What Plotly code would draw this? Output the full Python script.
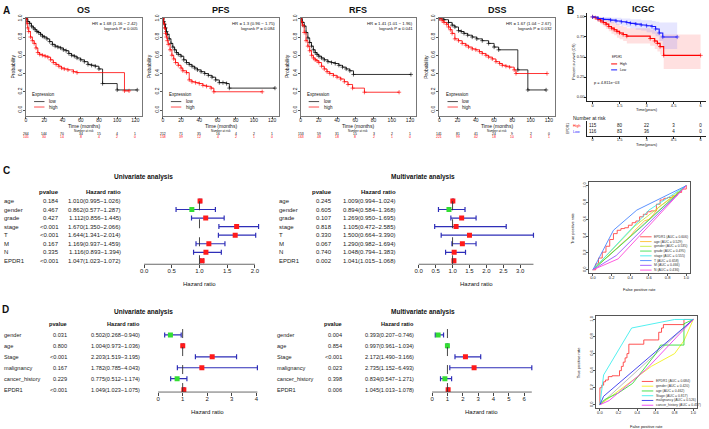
import plotly.graph_objects as go

W, H = 709, 429
FONT = "Arial, Liberation Sans, Helvetica, sans-serif"
RED, GREEN, BAR = "#ff1a1a", "#33dd33", "#2e2eb8"

# ---------------- A: Kaplan-Meier curves (months, survival) ----------------
km_names = ["OS", "PFS", "RFS", "DSS"]
km_hr = ["HR = 1.68 (1.16 − 2.42)", "HR = 1.3 (0.96 − 1.75)",
         "HR = 1.41 (1.01 − 1.96)", "HR = 1.67 (1.04 − 2.67)"]
km_logrank = ["logrank P = 0.005", "logrank P = 0.084",
              "logrank P = 0.041", "logrank P = 0.032"]
km_ticks = [0, 20, 40, 60, 80, 100, 120]

os_low_t = [0, 2, 4, 6, 8, 10, 12, 14, 16, 18, 20, 23, 26, 29, 32, 35, 38, 41, 44, 47,
            50, 53, 56, 60, 64, 68, 72, 76, 80, 84, 100, 122]
os_low_s = [1.0, 0.97, 0.95, 0.92, 0.9, 0.88, 0.86, 0.85, 0.83, 0.81, 0.8, 0.78, 0.75, 0.72,
            0.7, 0.69, 0.68, 0.66, 0.65, 0.62, 0.6, 0.59, 0.57, 0.55, 0.53, 0.5, 0.49, 0.48,
            0.45, 0.29, 0.22, 0.22]
os_high_t = [0, 1, 2, 3, 5, 7, 9, 11, 13, 15, 18, 21, 24, 27, 30, 33, 36, 39, 42, 46, 52,
             56, 108, 113]
os_high_s = [1.0, 0.95, 0.9, 0.86, 0.8, 0.76, 0.73, 0.68, 0.63, 0.61, 0.6, 0.59, 0.58, 0.55,
             0.52, 0.5, 0.48, 0.46, 0.45, 0.44, 0.42, 0.41, 0.21, 0.21]

pfs_low_t = [0, 1, 2, 3, 4, 5, 7, 9, 11, 13, 15, 17, 20, 23, 26, 29, 32, 35, 38, 42, 46, 50,
             54, 58, 62, 66, 70, 73, 123]
pfs_low_s = [1.0, 0.97, 0.94, 0.9, 0.86, 0.83, 0.78, 0.73, 0.69, 0.66, 0.63, 0.61, 0.59, 0.55,
             0.52, 0.5, 0.48, 0.46, 0.44, 0.42, 0.4, 0.38, 0.36, 0.33, 0.3, 0.3, 0.29, 0.24, 0.24]
pfs_high_t = [0, 1, 2, 3, 4, 5, 6, 8, 10, 12, 14, 17, 20, 22, 26, 29, 32, 36, 40, 44, 48, 53,
              56, 109]
pfs_high_s = [1.0, 0.95, 0.9, 0.84, 0.8, 0.76, 0.72, 0.66, 0.6, 0.56, 0.52, 0.49, 0.46, 0.43,
              0.41, 0.33, 0.31, 0.3, 0.29, 0.27, 0.26, 0.24, 0.2, 0.2]

rfs_low_t = [0, 2, 4, 6, 8, 10, 12, 14, 16, 18, 20, 23, 26, 30, 34, 38, 42, 46, 50, 54, 58, 121]
rfs_low_s = [1.0, 0.96, 0.92, 0.85, 0.79, 0.74, 0.7, 0.66, 0.63, 0.61, 0.59, 0.57, 0.55, 0.53,
             0.52, 0.51, 0.49, 0.47, 0.45, 0.43, 0.39, 0.39]
rfs_high_t = [0, 1, 2, 4, 6, 8, 10, 12, 14, 16, 18, 20, 23, 26, 29, 32, 36, 40, 44, 48, 52, 57,
              70, 108]
rfs_high_s = [1.0, 0.97, 0.93, 0.85, 0.76, 0.7, 0.65, 0.6, 0.57, 0.55, 0.54, 0.52, 0.48, 0.45,
              0.42, 0.4, 0.38, 0.36, 0.34, 0.31, 0.28, 0.24, 0.195, 0.195]

dss_low_t = [0, 5, 10, 14, 17, 21, 24, 27, 31, 36, 41, 47, 54, 60, 65, 86, 97, 117]
dss_low_s = [1.0, 0.99, 0.96, 0.93, 0.91, 0.87, 0.86, 0.84, 0.82, 0.8, 0.78, 0.76, 0.73, 0.69,
             0.66, 0.44, 0.22, 0.22]
dss_high_t = [0, 3, 5, 8, 10, 12, 14, 17, 21, 25, 29, 32, 36, 40, 44, 47, 51, 54, 58, 62, 66,
              69, 73, 77, 82, 84, 118]
dss_high_s = [1.0, 0.98, 0.96, 0.94, 0.91, 0.88, 0.84, 0.78, 0.76, 0.73, 0.71, 0.69, 0.67, 0.66,
              0.64, 0.62, 0.6, 0.58, 0.56, 0.53, 0.51, 0.49, 0.48, 0.47, 0.44, 0.4, 0.4]

os_risk_low = [264, 144, 70, 34, 15, 4, 1]
os_risk_high = [105, 30, 14, 8, 4, 2, 0]
pfs_risk_low = [212, 71, 35, 16, 4, 2, 1]
pfs_risk_high = [158, 39, 12, 4, 2, 1, 0]
rfs_risk_low = [153, 59, 31, 15, 3, 2, 1]
rfs_risk_high = [163, 48, 18, 8, 2, 1, 0]
dss_risk_low = [141, 81, 41, 24, 9, 2, 0]
dss_risk_high = [221, 99, 42, 18, 10, 4, 1]

km_low = [(os_low_t, os_low_s), (pfs_low_t, pfs_low_s), (rfs_low_t, rfs_low_s), (dss_low_t, dss_low_s)]
km_high = [(os_high_t, os_high_s), (pfs_high_t, pfs_high_s), (rfs_high_t, rfs_high_s),
           (dss_high_t, dss_high_s)]
km_risk = [(os_risk_low, os_risk_high), (pfs_risk_low, pfs_risk_high),
           (rfs_risk_low, rfs_risk_high), (dss_risk_low, dss_risk_high)]

# ---------------- B: ICGC (years) ----------------
icgc_high_t = [0, 0.15, 0.3, 0.45, 0.6, 0.75, 0.9, 1.05, 1.2, 1.35, 1.5, 1.7, 1.9, 3.2, 3.45, 3.6,
               3.75, 3.95, 6.0]
icgc_high_s = [1.0, 0.99, 0.97, 0.95, 0.93, 0.91, 0.88, 0.86, 0.84, 0.82, 0.8, 0.78, 0.76, 0.73,
               0.7, 0.67, 0.63, 0.52, 0.52]
icgc_high_up = [1.0, 1.0, 1.0, 0.99, 0.98, 0.97, 0.95, 0.94, 0.92, 0.91, 0.89, 0.88, 0.86, 0.84,
                0.82, 0.8, 0.77, 0.78, 0.78]
icgc_high_lo = [1.0, 0.97, 0.94, 0.91, 0.88, 0.85, 0.82, 0.79, 0.77, 0.74, 0.72, 0.7, 0.67, 0.64,
                0.6, 0.57, 0.53, 0.35, 0.35]
icgc_low_t = [0, 0.3, 0.6, 1.0, 1.3, 1.6, 1.9, 2.1, 2.4, 2.7, 3.0, 3.3, 3.5, 3.7, 3.9, 4.7]
icgc_low_s = [1.0, 0.98, 0.97, 0.96, 0.95, 0.94, 0.93, 0.92, 0.91, 0.9, 0.89, 0.88, 0.85, 0.8,
              0.75, 0.75]
icgc_low_up = [1.0, 1.0, 1.0, 0.99, 0.99, 0.98, 0.98, 0.97, 0.97, 0.96, 0.96, 0.95, 0.94, 0.93,
               0.93, 0.93]
icgc_low_lo = [1.0, 0.96, 0.94, 0.92, 0.9, 0.89, 0.87, 0.86, 0.84, 0.83, 0.81, 0.79, 0.76, 0.7,
               0.6, 0.6]
icgc_ticks = [0, 1.5, 3, 4.5, 6]
icgc_tick_text = ["0", "1.5", "3", "4.5", "6"]
icgc_risk_high = [115, 80, 22, 3, 0]
icgc_risk_low = [116, 83, 36, 4, 0]

# ---------------- C / D: Cox regression ----------------
c_vars = ["age", "gender", "grade", "stage", "T", "M", "N", "EPDR1"]
c_uni_p = ["0.184", "0.467", "0.427", "<0.001", "<0.001", "0.167", "0.335", "<0.001"]
c_uni_hr = [1.010, 0.862, 1.112, 1.670, 1.644, 1.169, 1.116, 1.047]
c_uni_lo = [0.995, 0.577, 0.856, 1.350, 1.341, 0.937, 0.893, 1.023]
c_uni_hi = [1.026, 1.287, 1.445, 2.066, 2.014, 1.459, 1.394, 1.072]
c_multi_p = ["0.245", "0.605", "0.107", "0.818", "0.330", "0.067", "0.740", "0.002"]
c_multi_hr = [1.009, 0.894, 1.269, 1.105, 1.500, 1.290, 1.048, 1.041]
c_multi_lo = [0.994, 0.584, 0.950, 0.472, 0.664, 0.982, 0.794, 1.015]
c_multi_hi = [1.024, 1.368, 1.695, 2.585, 3.390, 1.694, 1.383, 1.068]

d_vars = ["gender", "age", "Stage", "malignancy", "cancer_history", "EPDR1"]
d_uni_p = ["0.031", "0.800", "<0.001", "0.167", "0.229", "<0.001"]
d_uni_hr = [0.502, 1.004, 2.203, 1.782, 0.775, 1.049]
d_uni_lo = [0.268, 0.973, 1.519, 0.785, 0.512, 1.023]
d_uni_hi = [0.940, 1.036, 3.195, 4.043, 1.174, 1.075]
d_multi_p = ["0.004", "0.854", "<0.001", "0.023", "0.398", "0.006"]
d_multi_hr = [0.393, 0.997, 2.172, 2.735, 0.834, 1.045]
d_multi_lo = [0.207, 0.961, 1.490, 1.152, 0.547, 1.013]
d_multi_hi = [0.746, 1.034, 3.166, 6.493, 1.271, 1.078]

# ---------------- ROC curves (fpr, tpr) ----------------
c_roc_names = ["EPDR1 (AUC = 0.606)", "age (AUC = 0.529)", "gender (AUC = 0.535)",
               "grade (AUC = 0.495)", "stage (AUC = 0.555)", "T (AUC = 0.658)",
               "M (AUC = 0.466)", "N (AUC = 0.436)"]
c_roc_colors = ["#ff4848", "#ffc030", "#c4ec40", "#40e050", "#40eaea", "#4a86ff", "#9a52ff", "#ff48d8"]
c_roc_fpr = [
    [0, 0.03, 0.06, 0.1, 0.14, 0.18, 0.22, 0.26, 0.3, 0.34, 0.38, 0.42, 0.46, 0.5, 0.54, 0.58,
     0.62, 0.66, 0.68, 0.72, 0.76, 0.8, 0.85, 0.9, 0.95, 1.0],
    [0, 0.1, 0.2, 0.3, 0.35, 0.4, 0.45, 0.5, 0.55, 0.6, 0.65, 0.7, 0.8, 0.9, 1.0],
    [0, 0.45, 1.0],
    [0, 0.55, 1.0],
    [0, 0.6, 1.0],
    [0, 0.22, 0.47, 1.0],
    [0, 0.25, 1.0],
    [0, 0.27, 1.0],
]
c_roc_tpr = [
    [0, 0.07, 0.14, 0.21, 0.28, 0.36, 0.43, 0.47, 0.49, 0.5, 0.53, 0.56, 0.58, 0.63, 0.66, 0.69,
     0.7, 0.7, 0.78, 0.83, 0.85, 0.86, 0.88, 0.92, 0.96, 1.0],
    [0, 0.1, 0.2, 0.3, 0.36, 0.4, 0.47, 0.53, 0.58, 0.6, 0.66, 0.74, 0.82, 0.9, 1.0],
    [0, 0.52, 1.0],
    [0, 0.54, 1.0],
    [0, 0.71, 1.0],
    [0, 0.47, 0.71, 1.0],
    [0, 0.17, 1.0],
    [0, 0.13, 1.0],
]
d_roc_names = ["EPDR1 (AUC = 0.684)", "gender (AUC = 0.420)", "age (AUC = 0.462)",
               "Stage (AUC = 0.817)", "malignancy (AUC = 0.526)", "cancer_history (AUC = 0.457)"]
d_roc_colors = ["#ff4040", "#f2f020", "#38dd38", "#40eeee", "#3434ee", "#ee40ee"]
d_roc_fpr = [
    [0, 0, 0.02, 0.04, 0.06, 0.09, 0.13, 0.2, 0.21, 0.23, 0.25, 0.27, 0.29, 0.31, 0.45, 0.47,
     0.61, 0.63, 0.66, 0.68, 0.9, 0.9, 1.0],
    [0, 0.3, 0.55, 0.8, 0.9, 1.0],
    [0, 0.05, 0.2, 0.35, 0.6, 0.65, 0.9, 0.9, 1.0],
    [0, 0.04, 0.34, 0.8, 1.0],
    [0, 0.04, 1.0],
    [0, 0.1, 0.5, 1.0],
]
d_roc_tpr = [
    [0, 0.2, 0.23, 0.27, 0.29, 0.33, 0.34, 0.34, 0.4, 0.45, 0.5, 0.55, 0.6, 0.71, 0.71, 0.76,
     0.76, 0.85, 0.9, 0.94, 0.94, 1.0, 1.0],
    [0, 0.25, 0.45, 0.6, 0.75, 1.0],
    [0, 0.06, 0.14, 0.25, 0.6, 0.7, 0.7, 0.95, 1.0],
    [0, 0.35, 0.9, 1.0, 1.0],
    [0, 0.1, 1.0],
    [0, 0.05, 0.42, 1.0],
]
roc_diag = [0, 1]
roc_ticks = [0, 0.2, 0.4, 0.6, 0.8, 1.0]

# ============================================================================
fig = go.Figure()
ann, shapes = [], []


def nm(n, k):
    return k if n == 1 else f"{k}{n}"


def set_axes(n, xpx, ypx, xkw, ykw):
    fig.update_layout(**{
        ("xaxis" if n == 1 else f"xaxis{n}"): dict(domain=[xpx[0] / W, xpx[1] / W],
                                                   anchor=nm(n, "y"), showgrid=False,
                                                   zeroline=False, **xkw),
        ("yaxis" if n == 1 else f"yaxis{n}"): dict(domain=[1 - ypx[1] / H, 1 - ypx[0] / H],
                                                   anchor=nm(n, "x"), showgrid=False,
                                                   zeroline=False, **ykw),
    })


def txt(x, y, s, size=5, xref="paper", yref="paper", xa="center", ya="middle",
        color="#111", bold=False, angle=0):
    if xref == "paper":
        x = x / W
    if yref == "paper":
        y = 1 - y / H
    ann.append(dict(x=x, y=y, xref=xref, yref=yref, text=f"<b>{s}</b>" if bold else s,
                    showarrow=False, xanchor=xa, yanchor=ya, textangle=angle, borderpad=0,
                    font=dict(size=size, color=color, family=FONT)))


def seg(x0, y0, x1, y1, xref="paper", yref="paper", color="#000", width=0.8, dash="solid"):
    if xref == "paper":
        x0, x1 = x0 / W, x1 / W
    if yref == "paper":
        y0, y1 = 1 - y0 / H, 1 - y1 / H
    shapes.append(dict(type="line", x0=x0, y0=y0, x1=x1, y1=y1, xref=xref, yref=yref,
                       line=dict(color=color, width=width, dash=dash)))


def tick_style(size, color="#555", standoff=-2):
    return dict(ticks="outside", ticklen=2, tickwidth=0.6, tickcolor=color,
                ticklabelstandoff=standoff,
                tickfont=dict(size=size, color="#222", family=FONT))


# ---------------- A ----------------
km_left = [25, 162, 300, 439]
for i, name in enumerate(km_names):
    n = i + 1
    L = km_left[i]
    R = L + 116
    box = dict(showline=True, mirror=True, linecolor="#777", linewidth=0.8)
    set_axes(n, (L, R), (14, 113),
             dict(range=[0, 127], tickvals=km_ticks, **box, **tick_style(5, standoff=-3)),
             dict(range=[-0.065, 1.01], tickvals=[0, 0.2, 0.4, 0.6, 0.8, 1.0],
                  ticktext=["0.0", "0.2", "0.4", "0.6", "0.8", "1.0"], tickangle=-90,
                  **box, **tick_style(5, standoff=-1)))
    for (t, s), col in ((km_low[i], "#000000"), (km_high[i], "#ff0000")):
        fig.add_trace(go.Scatter(x=t, y=s, mode="lines+markers", xaxis=nm(n, "x"),
                                 yaxis=nm(n, "y"), showlegend=False, hoverinfo="skip",
                                 line=dict(color=col, width=0.8, shape="hv"),
                                 marker=dict(symbol="cross-thin", size=3,
                                             line=dict(color=col, width=0.6))))
    dref = nm(n, "x") + " domain"
    txt(0.5, 6, name, size=9, xref=dref, bold=True)
    txt(0.98, 20, km_hr[i], size=4.3, xref=dref, xa="right")
    txt(0.98, 25, km_logrank[i], size=4.3, xref=dref, xa="right")
    txt(0.045, 91, "Expression", size=4.5, xref=dref, xa="left")
    for j, (lab, col) in enumerate((("low", "#000"), ("high", "#ff0000"))):
        y = 98.5 + j * 5.5
        seg(0.07, y, 0.16, y, xref=dref, color=col, width=0.7)
        txt(0.19, y, lab, size=4.5, xref=dref, xa="left")
    txt(L - 13, 63, "Probability", size=5, angle=-90)
    txt((L + R) / 2, 123.5, "Time (months)", size=5)
    txt(0.5, 128, "Number at risk", size=3, xref=dref)
    for j, (lab, col) in enumerate((("low", "#000"), ("high", "#ff0000"))):
        y = 131 + j * 3.4
        txt(-3, y, lab, size=3.4, xref=nm(n, "x"), xa="right", color=col)
        for tv, cnt in zip(km_ticks, km_risk[i][j]):
            txt(tv, y, str(cnt), size=3.4, xref=nm(n, "x"), color=col)

# ---------------- B ----------------
bx = (587, 706)
set_axes(5, bx, (9, 98),
         dict(range=[-0.3, 6.3], tickvals=icgc_ticks, ticktext=icgc_tick_text,
              showline=True, linecolor="#222", linewidth=0.6, **tick_style(4, "#222", -2)),
         dict(range=[-0.05, 1.05], tickvals=[0, 0.25, 0.5, 0.75, 1.0],
              ticktext=["0.00", "0.25", "0.50", "0.75", "1.00"],
              showline=True, linecolor="#222", linewidth=0.6, **tick_style(4, "#222", -1)))
for t, s, up, lo, col, fill in (
        (icgc_high_t, icgc_high_s, icgc_high_up, icgc_high_lo, "#ff0000", "rgba(255,60,60,0.16)"),
        (icgc_low_t, icgc_low_s, icgc_low_up, icgc_low_lo, "#1a1aff", "rgba(80,80,255,0.14)")):
    fig.add_trace(go.Scatter(x=t, y=up, mode="lines", line=dict(width=0, shape="hv"),
                             xaxis="x5", yaxis="y5", showlegend=False, hoverinfo="skip"))
    fig.add_trace(go.Scatter(x=t, y=lo, mode="lines", line=dict(width=0, shape="hv"),
                             fill="tonexty", fillcolor=fill,
                             xaxis="x5", yaxis="y5", showlegend=False, hoverinfo="skip"))
for t, s, col in ((icgc_high_t, icgc_high_s, "#ff0000"), (icgc_low_t, icgc_low_s, "#1a1aff")):
    fig.add_trace(go.Scatter(x=t, y=s, mode="lines+markers", xaxis="x5", yaxis="y5",
                             line=dict(color=col, width=1.1, shape="hv"),
                             marker=dict(symbol="cross-thin", size=3, line=dict(color=col, width=0.6)),
                             showlegend=False, hoverinfo="skip"))
txt(643, 5, "ICGC", size=9, bold=True)
txt(574, 58, "Percent survival (OS)", size=3.8, angle=-90)
txt(647, 106.5, "Time(years)", size=4)
txt(593, 79, "p = 4.811e−03", size=4, xa="left")
txt(611, 54, "EPDR1", size=3, xa="left")
for j, (lab, col) in enumerate((("High", "#ff0000"), ("Low", "#1a1aff"))):
    y = 60.5 + j * 6
    seg(611, y, 617, y, color=col, width=1)
    txt(619, y, lab, size=3.3, xa="left")

set_axes(6, bx, (118, 133),
         dict(range=[-0.3, 6.3], tickvals=icgc_ticks, ticktext=icgc_tick_text,
              showline=True, linecolor="#222", linewidth=0.6, **tick_style(4, "#222", -2)),
         dict(range=[0.333, 2.833], showticklabels=False, showline=True, linecolor="#222",
              linewidth=0.6))
for yv, vals in ((2, icgc_risk_high), (1, icgc_risk_low)):
    fig.add_trace(go.Scatter(x=icgc_ticks, y=[yv] * len(vals), mode="text",
                             text=[str(v) for v in vals], xaxis="x6", yaxis="y6",
                             textfont=dict(size=4.5, color="#111", family=FONT),
                             showlegend=False, hoverinfo="skip"))
txt(572, 115, "Number at risk", size=5, xa="left")
txt(581, 2, "High", size=3.6, xa="right", yref="y6", color="#ff0000")
txt(581, 1, "Low", size=3.6, xa="right", yref="y6", color="#1a1aff")
txt(568, 126, "EPDR1", size=3.3, angle=-90)
txt(647, 141.5, "Time(years)", size=4)


# ---------------- C / D forest plots ----------------
def forest(n, vars_, pv, hr, lo, hi, xpx, ypx, xr, yr, tvals, ttext, axis_max, dash_top,
           cols, fsize, title_xy, hr_lab_y):
    k = len(vars_)
    yv = [k - i for i in range(k)]
    set_axes(n, xpx, ypx,
             dict(range=xr, tickvals=tvals, ticktext=ttext, showline=False,
                  ticks="outside", ticklen=3, tickwidth=0.7, tickcolor="#444",
                  ticklabelstandoff=-2,
                  tickfont=dict(size=6, color="#222", family=FONT)),
             dict(range=yr, showticklabels=False, showline=False))
    xa, ya = nm(n, "x"), nm(n, "y")
    seg(0, 0, axis_max, 0, xref=xa, yref=ya + " domain", color="#444", width=0.8)
    seg(1, yr[0], 1, dash_top, xref=xa, yref=ya, color="#333", width=0.9, dash="dash")
    fig.add_trace(go.Scatter(
        x=hr, y=yv, mode="markers", xaxis=xa, yaxis=ya, showlegend=False, hoverinfo="skip",
        marker=dict(symbol="square", size=5, color=[RED if h >= 1 else GREEN for h in hr]),
        error_x=dict(type="data", symmetric=False, array=[b - h for h, b in zip(hr, hi)],
                     arrayminus=[h - a for h, a in zip(hr, lo)], color=BAR,
                     thickness=1.2, width=2.5)))
    txt(cols[1], k + 1, "pvalue", size=fsize, xa="right", yref=ya, bold=True)
    txt(cols[2], k + 1, "Hazard ratio", size=fsize, xa="right", yref=ya, bold=True)
    for i in range(k):
        txt(cols[0], yv[i], vars_[i], size=fsize, xa="left", yref=ya, color="#222")
        txt(cols[1], yv[i], pv[i], size=fsize, xa="right", yref=ya, color="#222")
        txt(cols[2], yv[i], f"{hr[i]:.3f}({lo[i]:.3f}−{hi[i]:.3f})", size=fsize, xa="right",
            yref=ya, color="#222")
    txt(title_xy[0], title_xy[1], title_xy[2], size=6.5, bold=True)
    txt(0.5 * axis_max, hr_lab_y, "Hazard ratio", size=6, xref=xa)


forest(7, c_vars, c_uni_p, c_uni_hr, c_uni_lo, c_uni_hi, (138, 265), (185, 262.7),
       [-0.095, 2.193], [0.6, 9.6], [0, 0.5, 1, 1.5, 2], ["0.0", "0.5", "1.0", "1.5", "2.0"],
       2.0, 8.85, (2, 59, 120.7), 6, (143, 175, "Univariate analysis"), 283)
forest(8, c_vars, c_multi_p, c_multi_hr, c_multi_lo, c_multi_hi, (413, 538), (185, 262.7),
       [-0.156, 3.531], [0.6, 9.6], [0, 0.5, 1, 1.5, 2, 2.5, 3],
       ["0.0", "0.5", "1.0", "1.5", "2.0", "2.5", "3.0"],
       3.39, 8.85, (277, 332, 397), 6, (423, 175, "Multivariate analysis"), 283)
forest(10, d_vars, d_uni_p, d_uni_hr, d_uni_lo, d_uni_hi, (150, 262), (318, 391.7),
       [-0.297, 4.256], [0.78, 7.45], [0, 1, 2, 3, 4], ["0", "1", "2", "3", "4"],
       4.043, 7.0, (2, 66.7, 140), 5.6, (143, 311, "Univariate analysis"), 412)
forest(11, d_vars, d_multi_p, d_multi_hr, d_multi_lo, d_multi_hi, (425, 537), (318, 391.7),
       [-0.436, 6.847], [0.78, 7.45], [0, 1, 2, 3, 4, 5, 6], ["0", "1", "2", "3", "4", "5", "6"],
       6.493, 7.0, (275, 342, 415), 5.6, (423, 311, "Multivariate analysis"), 412)


# ---------------- ROC ----------------
def roc(n, xpx, ypx, names, colors, fprs, tprs, leg_x, leg_y, xlab_y, ylab_x):
    box = dict(showline=True, mirror=True, linecolor="#555", linewidth=0.7)
    set_axes(n, xpx, ypx,
             dict(range=[-0.04, 1.04], tickvals=roc_ticks,
                  ticktext=["0.0", "0.2", "0.4", "0.6", "0.8", "1.0"], **box, **tick_style(4)),
             dict(range=[-0.04, 1.04], tickvals=roc_ticks,
                  ticktext=["0.0", "0.2", "0.4", "0.6", "0.8", "1.0"], tickangle=-90,
                  **box, **tick_style(4, standoff=-1)))
    xa, ya = nm(n, "x"), nm(n, "y")
    fig.add_trace(go.Scatter(x=roc_diag, y=roc_diag, mode="lines", xaxis=xa, yaxis=ya,
                             line=dict(color="#aaaaaa", width=0.8), showlegend=False,
                             hoverinfo="skip"))
    for j in range(len(names)):
        fig.add_trace(go.Scatter(x=fprs[j], y=tprs[j], mode="lines", xaxis=xa, yaxis=ya,
                                 line=dict(color=colors[j], width=0.9,
                                           shape="hv" if j == 0 else "linear"),
                                 showlegend=False, hoverinfo="skip"))
        y = leg_y + j * 4.8
        seg(leg_x, y, leg_x + 11.5, y, color=colors[j], width=0.9)
        txt(leg_x + 13, y, names[j], size=3.4, xa="left", color="#333")
    txt((xpx[0] + xpx[1]) / 2, xlab_y, "False positive rate", size=4)
    txt(ylab_x, (ypx[0] + ypx[1]) / 2, "True positive rate", size=4, angle=-90)


roc(9, (589, 690), (180, 271.7), c_roc_names, c_roc_colors, c_roc_fpr, c_roc_tpr,
    640, 235, 288, 573)
roc(12, (596, 697), (315, 408), d_roc_names, d_roc_colors, d_roc_fpr, d_roc_tpr,
    641.7, 381, 426, 578)

# panel letters
for lab, x, y in (("A", 6, 7), ("B", 570, 7), ("C", 6, 168), ("D", 5, 308)):
    txt(x, y, lab, size=10, bold=True)

fig.update_layout(width=W, height=H, margin=dict(l=0, r=0, t=0, b=0), autosize=False,
                  paper_bgcolor="white", plot_bgcolor="white", annotations=ann, shapes=shapes,
                  font=dict(family=FONT))
# page body has a default 8px margin; drop it so the figure sits at the window origin
fig.write_html("out.html", config={"displayModeBar": False},
               post_script="document.body.style.margin='0';document.body.style.overflow='hidden';")
